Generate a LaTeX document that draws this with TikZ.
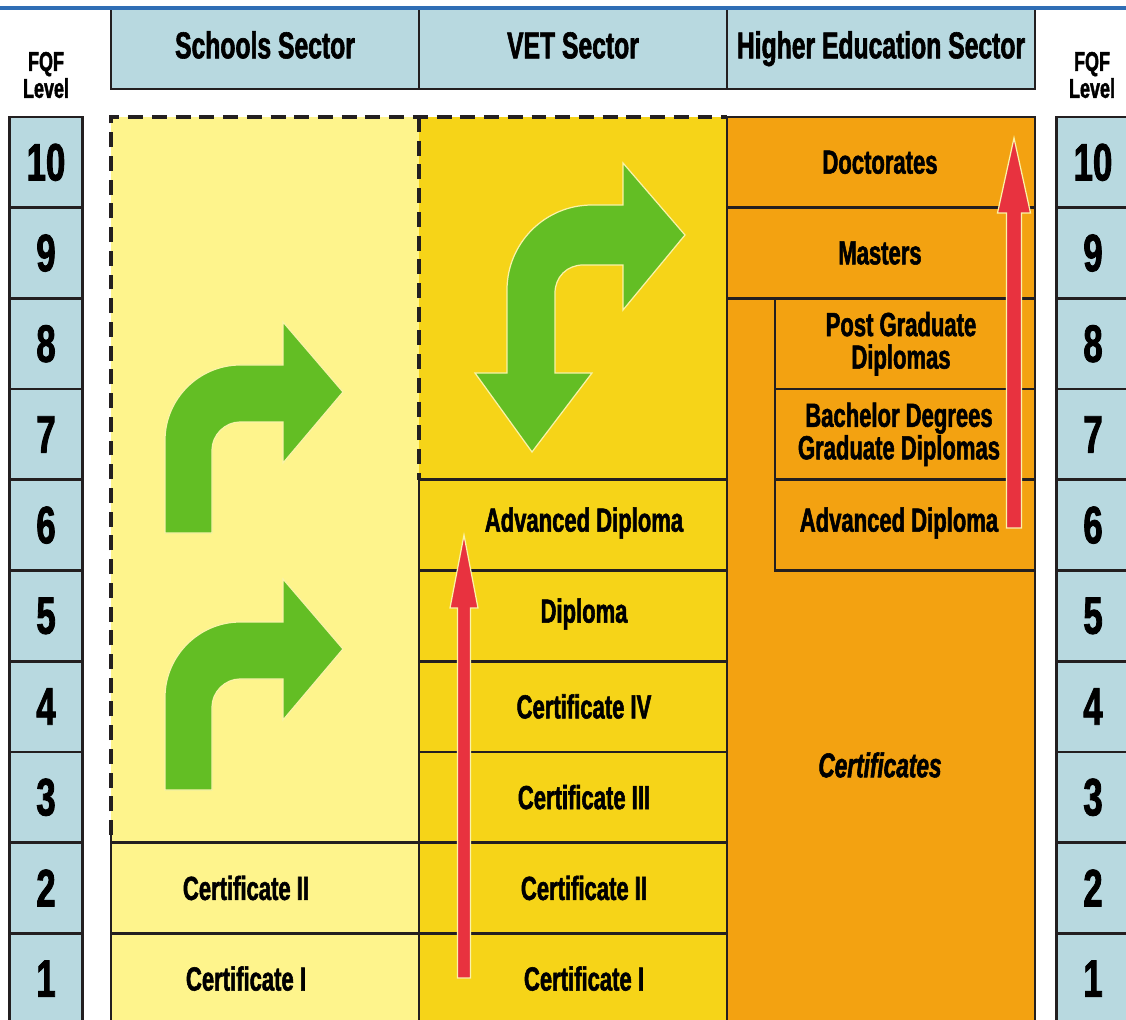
\documentclass[tikz,border=0pt]{standalone}
\usepackage{fontspec}
\setmainfont{Liberation Sans}[FakeStretch=0.66, BoldFeatures={FakeBold=1.6},
  BoldItalicFeatures={FakeBold=1.6}]
\usetikzlibrary{calc}

\definecolor{frameblue}{HTML}{2F6EB5}
\definecolor{headblue}{HTML}{B8D9E0}
\definecolor{schoolfill}{HTML}{FEF48C}
\definecolor{vetfill}{HTML}{F6D418}
\definecolor{hefill}{HTML}{F3A211}
\definecolor{turngreen}{HTML}{63BE24}
\definecolor{pathred}{HTML}{E8323F}
\definecolor{paleedge}{HTML}{FAF3A8}
\definecolor{rule}{HTML}{231F20}

\newcommand{\TurnArrow}[2]{
    \begin{scope}[shift={(#1,#2)}]
        \fill[bendarrow] (0,0) -- (0,-93) .. controls (0,-134) and (34,-168) .. (75,-168)
            -- (118,-168) -- (118,-211) -- (178,-141) -- (118,-70) -- (118,-111)
            -- (75,-111) .. controls (60,-111) and (47,-98) .. (47,-83) -- (47,0) -- cycle;
    \end{scope}
}

\newcommand{\RedArrow}[5]{
    \fill[redarrow] ($(#1)+(-#3,0)$) -- ($(#2)+(-#3,#5)$) -- ($(#2)+(-#4,#5)$) -- (#2)
        -- ($(#2)+(#4,#5)$) -- ($(#2)+(#3,#5)$) -- ($(#1)+(#3,0)$) -- cycle;
}

\begin{document}
\begin{tikzpicture}[
  x=0.02cm, y=-0.02cm,
  gridline/.style={draw=rule, line width=1.5pt},
  dashline/.style={draw=rule, line width=2pt, dash pattern=on 8.5pt off 5pt},
  sector/.style={draw=rule, line width=1.5pt, fill=headblue, minimum width=6.16cm,
    minimum height=1.6cm, inner sep=0pt, text height=15.3pt, text depth=4.7pt,
    font=\fontsize{21.3}{21.3}\selectfont\bfseries},
  levelbox/.style={draw=rule, line width=1.5pt, fill=headblue, minimum width=1.46cm,
    minimum height=1.814cm, inner sep=0pt, font=\fontsize{30}{30}\selectfont\bfseries},
  fqf/.style={align=center, inner sep=0pt, font=\fontsize{15.5}{13}\selectfont\bfseries},
  award/.style={align=center, inner sep=0pt, font=\fontsize{19}{18.5}\selectfont\bfseries},
  awardit/.style={award, font=\fontsize{19.5}{18.5}\selectfont\bfseries\itshape},
  bendarrow/.style={fill=turngreen, draw=paleedge, line width=0.7pt},
  redarrow/.style={fill=pathred, draw=paleedge, line width=0.7pt}
  ]
  \useasboundingbox (0,0) rectangle (1126,1020);

  \node[sector] (schoolsHead) at (265,49) {Schools Sector};
  \node[sector] (vetHead) at (573,49) {VET Sector};
  \node[sector] (heHead) at (881,49) {Higher Education Sector};
  \draw[frameblue, line width=1.8pt] (0,8) -- (1126,8);

  \node[fqf] (fqfLeft) at (46,75) {FQF\\Level};
  \node[fqf] (fqfRight) at (1092,75) {FQF\\Level};
  \foreach \n in {1,...,10} {
    \node[levelbox] (fqfL\n) at (46,{1069.35-90.7*\n}) {\n};
    \node[levelbox] (fqfR\n) at (1093,{1069.35-90.7*\n}) {\n};
  }

  \fill[schoolfill] (111,117) rectangle (419,1030);
  \fill[vetfill] (419,117) rectangle (727,1030);
  \fill[hefill] (727,117) rectangle (1035,1030);

  \draw[gridline] (111,842.6) -- (419,842.6) (111,933.3) -- (419,933.3) (111,835) -- (111,1030);
  \foreach \y in {479.8,570.5,661.2,751.9,842.6,933.3}
    \draw[gridline] (419,\y) -- (727,\y);
  \draw[gridline] (419,479.8) -- (419,1030);
  \draw[gridline] (727,1030) -- (727,117) -- (1035,117) -- (1035,1030);
  \draw[gridline] (727,207.7) -- (1035,207.7) (727,298.4) -- (1035,298.4);
  \draw[gridline] (775,298.4) -- (775,570.5) -- (1035,570.5)
    (775,389.1) -- (1035,389.1) (775,479.8) -- (1035,479.8);
  \draw[dashline] (111,835) -- (111,117) -- (727,117);
  \draw[dashline] (419,117) -- (419,479.8);

  \TurnArrow{165}{533}
  \TurnArrow{165}{790}
  \fill[bendarrow] (507,373) -- (507,290) .. controls (507,243) and (545,205) .. (592,205)
    -- (623,205) -- (623,163) -- (685,235) -- (623,310) -- (623,265) -- (583,265)
    .. controls (567,265) and (555,277) .. (555,293) -- (555,373) -- (592,373)
    -- (532,452) -- (475,373) -- cycle;

  \coordinate (vetFoot) at (464,978);
  \coordinate (vetTop) at (464,535);
  \coordinate (heFoot) at (1014,528);
  \coordinate (heTop) at (1014,138);
  \RedArrow{vetFoot}{vetTop}{6.5}{14}{73}
  \RedArrow{heFoot}{heTop}{7.5}{16.5}{75}

  \node[award] (schCertII) at (246,888) {Certificate II};
  \node[award] (schCertI) at (246,978.6) {Certificate I};

  \node[award] (vetAdvDip) at (584,523) {Advanced Diploma};
  \node[award] (vetDip) at (584,614) {Diploma};
  \node[award] (vetCertIV) at (584,706.5) {Certificate IV};
  \node[award] (vetCertIII) at (584,797.2) {Certificate III};
  \node[award] (vetCertII) at (584,888) {Certificate II};
  \node[award] (vetCertI) at (584,978.6) {Certificate I};

  \node[award] (heDoc) at (880,162.3) {Doctorates};
  \node[award] (heMasters) at (880,253) {Masters};
  \node[award] (hePostGrad) at (901,343.7) {Post Graduate\\Diplomas};
  \node[award] (heBachelor) at (899,434.4) {Bachelor Degrees\\Graduate Diplomas};
  \node[award] (heAdvDip) at (899,523) {Advanced Diploma};
  \node[awardit] (heCerts) at (880,765) {Certificates};
\end{tikzpicture}
\end{document}
